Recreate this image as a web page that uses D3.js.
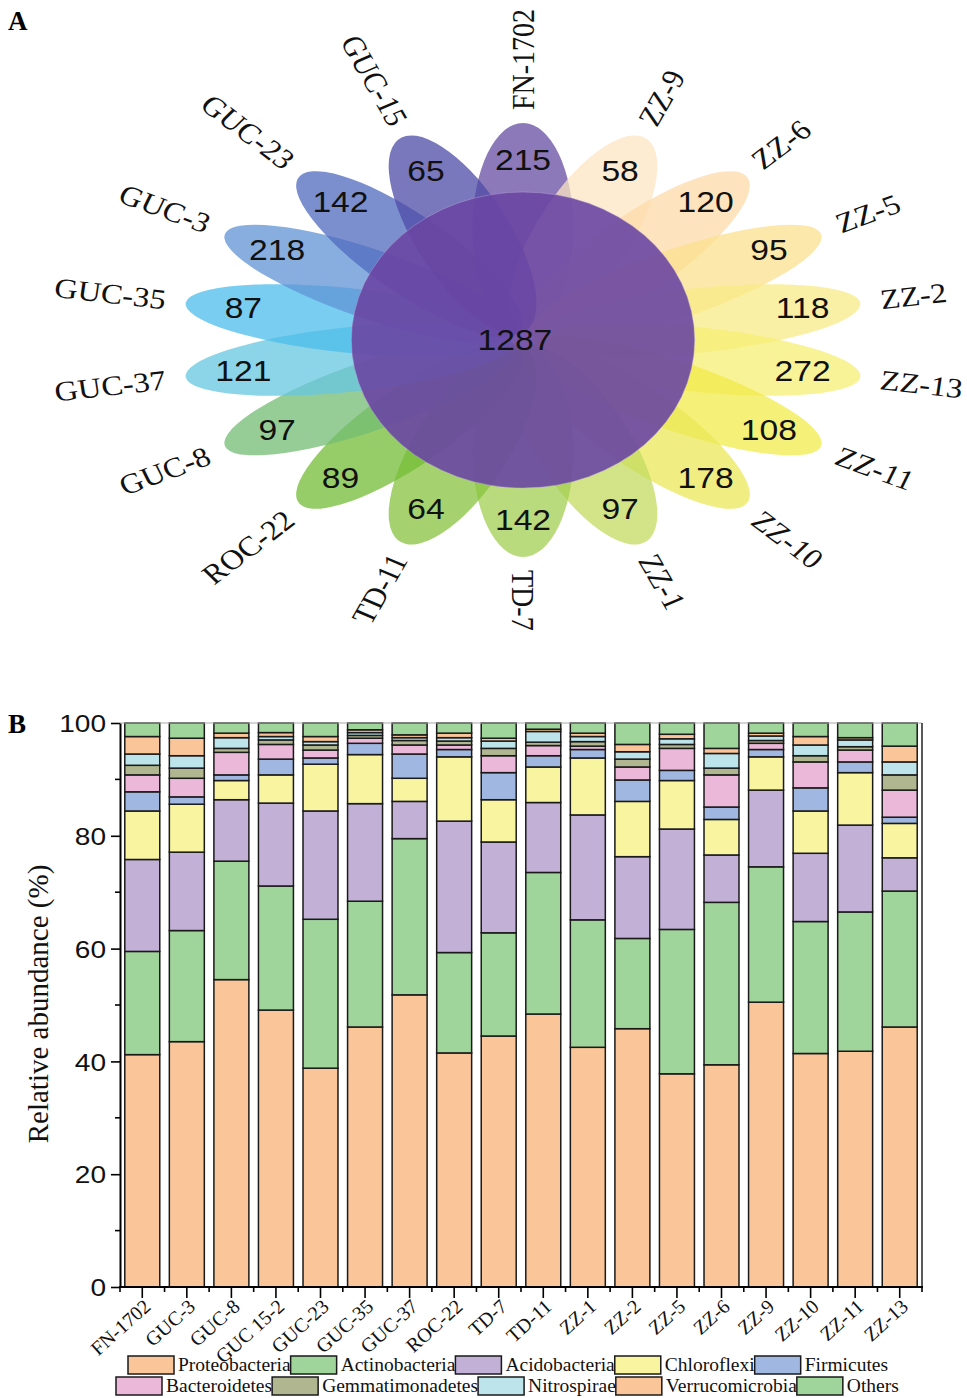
<!DOCTYPE html>
<html><head><meta charset="utf-8">
<script src="https://cdn.jsdelivr.net/npm/d3@7"></script>
<style>body{margin:0;background:#fff} svg{display:block}</style>
</head><body>
<svg id="chart" width="967" height="1398"></svg>
<script>
// ---------- Panel A data (clockwise from top) ----------
const flowerSamples = ["FN-1702","ZZ-9","ZZ-6","ZZ-5","ZZ-2","ZZ-13","ZZ-11","ZZ-10","ZZ-1","TD-7","TD-11","ROC-22","GUC-8","GUC-37","GUC-35","GUC-3","GUC-23","GUC-15"];
const uniqueOTUs = [215,58,120,95,118,272,108,178,97,142,64,89,97,121,87,218,142,65];
const coreOTUs = 1287;
const petalColors = ["#654ca1","#fce5c3","#fcdba8","#fbe08d","#f8eb87","#f5ef73","#f1eb4b","#ebe858","#c3db5f","#a1cd51","#87c33d","#73bc37","#73bc73","#65c5e0","#4bbceb","#6093d5","#4f69bf","#4d4ba7"];

// ---------- Panel B data ----------
const samples = ["FN-1702","GUC-3","GUC-8","GUC 15-2","GUC-23","GUC-35","GUC-37","ROC-22","TD-7","TD-11","ZZ-1","ZZ-2","ZZ-5","ZZ-6","ZZ-9","ZZ-10","ZZ-11","ZZ-13"];
const phyla = ["Proteobacteria","Actinobacteria","Acidobacteria","Chloroflexi","Firmicutes","Bacteroidetes","Gemmatimonadetes","Nitrospirae","Verrucomicrobia","Others"];
const proteobacteria   = [41.2,43.5,54.5,49.1,38.8,46.1,51.8,41.5,44.5,48.4,42.5,45.8,37.8,39.4,50.5,41.4,41.8,46.1];
const actinobacteria   = [18.3,19.7,21.0,22.0,26.4,22.3,27.7,17.8,18.3,25.1,22.6,16.0,25.6,28.8,24.0,23.4,24.7,24.1];
const acidobacteria    = [16.3,13.9,10.9,14.7,19.2,17.3,6.6,23.3,16.1,12.4,18.6,14.5,17.8,8.4,13.6,12.1,15.4,5.9];
const chloroflexi      = [8.6,8.5,3.4,5.0,8.3,8.7,4.1,11.4,7.5,6.3,10.1,9.8,8.6,6.3,5.9,7.5,9.3,6.1];
const firmicutes       = [3.4,1.3,1.0,2.8,1.1,2.0,4.3,1.3,4.8,2.0,1.5,3.8,1.8,2.2,1.3,4.1,1.9,1.1];
const bacteroidetes    = [3.0,3.3,4.0,2.6,1.4,0.9,1.6,0.8,3.0,1.8,0.6,2.3,3.9,5.7,1.1,4.6,2.1,4.8];
const gemmatimonadetes = [1.7,1.8,0.7,0.8,0.9,0.5,0.8,0.7,1.3,0.6,0.8,1.4,0.7,1.2,0.5,1.1,0.6,2.7];
const nitrospirae      = [2.0,2.2,1.9,0.6,0.6,0.5,0.5,0.6,1.3,1.9,0.9,1.3,1.0,2.6,0.8,1.9,1.2,2.3];
const verrucomicrobia  = [3.1,3.1,0.8,0.7,0.9,0.5,0.5,0.8,0.5,0.4,0.6,1.3,0.8,0.9,0.5,1.5,0.4,2.8];
const others           = [2.4,2.7,1.8,1.7,2.4,1.2,2.1,1.8,2.7,1.1,1.8,3.8,2.0,4.5,1.8,2.4,2.6,4.1];
const phylumColors = ["#fac699","#9fd49b","#c2b0d7","#f8f4a0","#a0b8e1","#ecb8d9","#b0b690","#bce4ea","#fac699","#9fd49b"];
const yMajorTicks = [0,20,40,60,80,100];
const yMinorTicks = [10,30,50,70,90];

const series = [proteobacteria,actinobacteria,acidobacteria,chloroflexi,firmicutes,bacteroidetes,gemmatimonadetes,nitrospirae,verrucomicrobia,others];
const rows = samples.map((s,i)=>{const r={sample:s}; phyla.forEach((p,k)=>r[p]=series[k][i]); return r;});

const svg = d3.select("#chart");
const serif = "'Liberation Serif','Times New Roman',serif";
const sans = "'Liberation Sans',Arial,sans-serif";

// ================= Panel A =================
svg.append("text").attr("x",8).attr("y",30).text("A")
  .attr("font-family",serif).attr("font-weight","bold").attr("font-size",27);

const cx=523, cy=340, stretchA=1.16, petalStretch=1.36;
const gA = svg.append("g").attr("transform",`translate(${cx},${cy}) scale(${stretchA},1)`);
const angle = i => -90 + i*360/flowerSamples.length;
const rad = a => a*Math.PI/180;

const gP = gA.append("g").attr("transform",`scale(${petalStretch},1)`);
gP.selectAll("ellipse").data(flowerSamples).join("ellipse")
  .attr("transform",(d,i)=>`rotate(${angle(i)})`)
  .attr("cx",112).attr("cy",0).attr("rx",105).attr("ry",32)
  .attr("fill",(d,i)=>petalColors[i]).attr("fill-opacity",0.75);

gA.append("circle").attr("r",148).attr("fill","#6a46a3").attr("fill-opacity",0.9)
  .attr("stroke","#b9a8d8").attr("stroke-opacity",0.5).attr("stroke-width",0.8);

gA.selectAll("text.num").data(uniqueOTUs).join("text").attr("class","num")
  .attr("x",(d,i)=>180*Math.cos(rad(angle(i)))*petalStretch)
  .attr("y",(d,i)=>180*Math.sin(rad(angle(i))))
  .attr("text-anchor","middle").attr("dominant-baseline","central")
  .attr("font-family",sans).attr("font-size",29).attr("fill","#111")
  .text(d=>d);
gA.append("text").attr("x",-7).attr("y",0).attr("text-anchor","middle").attr("dominant-baseline","central")
  .attr("font-family",sans).attr("font-size",29).attr("fill","#111").text(coreOTUs);

gA.selectAll("text.name").data(flowerSamples).join("text").attr("class","name")
  .each(function(d,i){
    const a = rad(angle(i));
    const px = 230*Math.cos(a)*petalStretch, py = 230*Math.sin(a);
    let rot = Math.atan2(Math.sin(a), petalStretch*Math.cos(a))*180/Math.PI;
    let anchor = "start";
    if (Math.cos(a) < -1e-6) { rot = rot - 180; anchor = "end"; if (rot < -180) rot += 360; }
    d3.select(this).attr("transform",`translate(${px},${py}) rotate(${rot})`)
      .attr("text-anchor",anchor).attr("dominant-baseline","central");
  })
  .attr("font-family",serif).attr("font-size",28).attr("fill","#111")
  .text(d=>d);

// ================= Panel B =================
svg.append("text").attr("x",8).attr("y",733).text("B")
  .attr("font-family",serif).attr("font-weight","bold").attr("font-size",27);

const x = d3.scaleBand().domain(samples).range([120,922]).paddingInner(0.215).paddingOuter(0.1075);
const y = d3.scaleLinear().domain([0,100]).range([1287,723]);

const stacked = d3.stack().keys(phyla)(rows);
const gB = svg.append("g");
gB.selectAll("g.layer").data(stacked).join("g").attr("class","layer")
  .attr("fill",(d,i)=>phylumColors[i])
  .selectAll("rect").data(d=>d).join("rect")
  .attr("x",d=>x(d.data.sample)).attr("width",x.bandwidth())
  .attr("y",d=>y(d[1])).attr("height",d=>y(d[0])-y(d[1]))
  .attr("stroke","#1a1a1a").attr("stroke-width",1.5);

// frame
gB.append("line").attr("x1",120).attr("x2",922).attr("y1",723).attr("y2",723).attr("stroke","#aaa").attr("stroke-width",1);
gB.append("line").attr("x1",922).attr("x2",922).attr("y1",723).attr("y2",1287).attr("stroke","#222").attr("stroke-width",1.5);

// y axis
const yAxisG = svg.append("g").attr("transform","translate(120,0)")
  .call(d3.axisLeft(y).tickValues(yMajorTicks).tickSize(9).tickSizeOuter(0).tickPadding(6));
yAxisG.select(".domain").attr("stroke","#000").attr("stroke-width",2);
yAxisG.selectAll(".tick line").attr("stroke","#000").attr("stroke-width",1.6);
yAxisG.selectAll(".tick text").attr("font-family",sans).attr("font-size",24).attr("fill","#111")
  .attr("x",-14/1.17).attr("dy","0.36em").attr("transform","scale(1.17,1)");
yAxisG.selectAll("line.minor").data(yMinorTicks).join("line").attr("class","minor")
  .attr("x1",0).attr("x2",-5).attr("y1",d=>y(d)).attr("y2",d=>y(d)).attr("stroke","#000").attr("stroke-width",1.6);

svg.append("text").attr("transform","translate(48,1004) rotate(-90)")
  .attr("text-anchor","middle").attr("font-family",serif).attr("font-size",29).attr("fill","#111")
  .text("Relative abundance (%)");

// x axis
const xAxisG = svg.append("g");
xAxisG.append("line").attr("x1",119).attr("x2",923).attr("y1",1287).attr("y2",1287).attr("stroke","#000").attr("stroke-width",2);
const step = x.step();
xAxisG.selectAll("line.bnd").data(d3.range(samples.length+1)).join("line").attr("class","bnd")
  .attr("x1",k=>120+k*step).attr("x2",k=>120+k*step).attr("y1",1287).attr("y2",1292).attr("stroke","#000").attr("stroke-width",1.6);
xAxisG.selectAll("line.ctr").data(samples).join("line").attr("class","ctr")
  .attr("x1",d=>x(d)+x.bandwidth()/2).attr("x2",d=>x(d)+x.bandwidth()/2).attr("y1",1287).attr("y2",1298).attr("stroke","#000").attr("stroke-width",1.6);
xAxisG.selectAll("text").data(samples).join("text")
  .attr("transform",d=>`translate(${x(d)+x.bandwidth()/2+5},${1303}) rotate(-42)`)
  .attr("text-anchor","end").attr("dominant-baseline","central")
  .attr("font-family",serif).attr("font-size",20).attr("fill","#111").text(d=>d);

// legend
const legRows = [[0,1,2,3,4],[5,6,7,8,9]];
const legStart = [128,116];
const legY = [1356,1377];
legRows.forEach((row,ri)=>{
  let cur = legStart[ri];
  row.forEach(k=>{
    svg.append("rect").attr("x",cur).attr("y",legY[ri]).attr("width",46).attr("height",18)
      .attr("fill",phylumColors[k]).attr("stroke","#1a1a1a").attr("stroke-width",1.5);
    const t = svg.append("text").attr("x",cur+50).attr("y",legY[ri]+15)
      .attr("font-family",serif).attr("font-size",19.5).attr("fill","#111").text(phyla[k]);
    cur += 50 + t.node().getComputedTextLength();
  });
});
</script>
</body></html>
